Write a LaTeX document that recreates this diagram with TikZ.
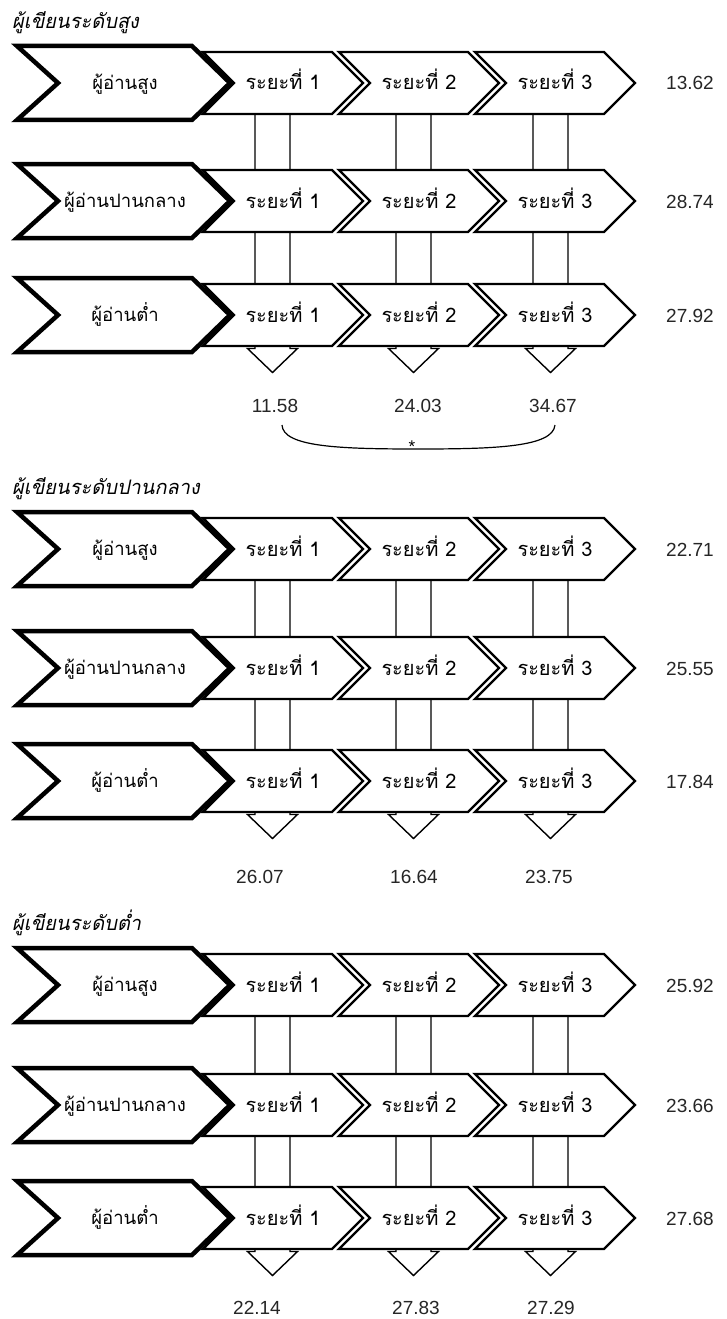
\documentclass[tikz,border=0pt]{standalone}
\usepackage{fontspec}
\newfontfamily\thai[Script=Thai]{Loma}
\newfontfamily\thaiit[Script=Thai,FakeSlant=0.2]{Loma}
\newfontfamily\numf{Liberation Sans}
\usetikzlibrary{calc}

\tikzset{
  readerchev/.style={draw=black, fill=white, line width=4.5pt, line join=miter},
  stagechev/.style={draw=black, fill=white, line width=2.4pt, line join=miter},
  stemarrow/.style={draw=black, fill=white, line width=1.4pt, line join=miter},
  lbl/.style={font=\thai\fontsize{18.5}{20}\selectfont, inner sep=0pt, anchor=base},
  stlbl/.style={font=\thai\fontsize{20}{22}\selectfont, inner sep=0pt, anchor=base},
  numlbl/.style={font=\numf\fontsize{19}{21}\selectfont, text=black!85, inner sep=0pt, anchor=base},
  headlbl/.style={font=\thaiit\fontsize{20}{22}\selectfont, inner sep=0pt, anchor=base west},
  bracelin/.style={draw=black, line width=1.2pt},
}

% #1 id, #2 r1, #3 r2, #4 r3, #5 heading y, #6 heading text
\newcommand\writerblock[6]{%
  \node[headlbl] (head-#1) at (12,#5+7) {#6};
  \foreach \cc/\cx in {1/272.5,2/413.5,3/550.5}{
    \coordinate (stemtop-#1-\cc) at (\cx,#2);
    \coordinate (stemend-#1-\cc) at (\cx,#4+57.5);
    \draw[stemarrow] ($(stemtop-#1-\cc)+(-17.5,0)$)
      -- ($(stemend-#1-\cc)+(-17.5,-24)$)
      -- ($(stemend-#1-\cc)+(-25,-24)$)
      -- (stemend-#1-\cc)
      -- ($(stemend-#1-\cc)+(25,-24)$)
      -- ($(stemend-#1-\cc)+(17.5,-24)$)
      -- ($(stemtop-#1-\cc)+(17.5,0)$);
  }
  \foreach \rw/\ry/\lab in {1/#2/ผู้อ่านสูง,2/#3/ผู้อ่านปานกลาง,3/#4/ผู้อ่านต่ำ}{
    \draw[readerchev] (17,\ry-37) -- (192,\ry-37) -- (230,\ry) -- (192,\ry+37) -- (17,\ry+37) -- (58,\ry) -- cycle;
    \node[lbl] (reader-#1-\rw) at (125,\ry+6.5) {\lab};
    \foreach \cc/\lx in {1/203,2/339,3/475}{
      \draw[stagechev] (\lx,\ry-31) -- (\lx+129,\ry-31) -- (\lx+160,\ry) -- (\lx+129,\ry+31) -- (\lx,\ry+31) -- (\lx+31,\ry) -- cycle;
      \node[stlbl] (stage-#1-\rw-\cc) at (\lx+80,\ry+7) {ระยะที่ \cc};
    }
  }
}

\begin{document}
\begin{tikzpicture}[x=1pt,y=-1pt]
\useasboundingbox (0,0) rectangle (726,1319);
\fill[white] (0,0) rectangle (726,1319);

% ---------------- block 1
\writerblock{a}{83}{201}{315}{22}{ผู้เขียนระดับสูง}
\foreach \rw/\ry/\v in {1/83/13.62,2/201/28.74,3/315/27.92}{
  \node[numlbl] (rnum-a-\rw) at (690,\ry+7) {\v};
}
\foreach \cc/\cx/\v in {1/275/11.58,2/418/24.03,3/553/34.67}{
  \node[numlbl] (bnum-a-\cc) at (\cx,405+7) {\v};
}
\coordinate (braceL) at (282,425);
\coordinate (braceR) at (555,425);
\coordinate (braceM) at (418,449);
\draw[bracelin] (braceL) .. controls (283,447) and (340,449) .. (braceM)
  .. controls (496,449) and (553,447) .. (braceR);
\node[font=\numf\fontsize{17}{18}\selectfont, inner sep=0pt, anchor=base] (star) at (412,452) {*};

% ---------------- block 2
\writerblock{b}{549}{668}{781}{487}{ผู้เขียนระดับปานกลาง}
\foreach \rw/\ry/\v in {1/549/22.71,2/668/25.55,3/781/17.84}{
  \node[numlbl] (rnum-b-\rw) at (690,\ry+7) {\v};
}
\foreach \cc/\cx/\v in {1/260/26.07,2/414/16.64,3/549/23.75}{
  \node[numlbl] (bnum-b-\cc) at (\cx,876+7) {\v};
}

% ---------------- block 3
\writerblock{c}{985}{1105}{1218}{923}{ผู้เขียนระดับต่ำ}
\foreach \rw/\ry/\v in {1/985/25.92,2/1105/23.66,3/1218/27.68}{
  \node[numlbl] (rnum-c-\rw) at (690,\ry+7) {\v};
}
\foreach \cc/\cx/\v in {1/257/22.14,2/416/27.83,3/551/27.29}{
  \node[numlbl] (bnum-c-\cc) at (\cx,1307+7) {\v};
}
\end{tikzpicture}
\end{document}
